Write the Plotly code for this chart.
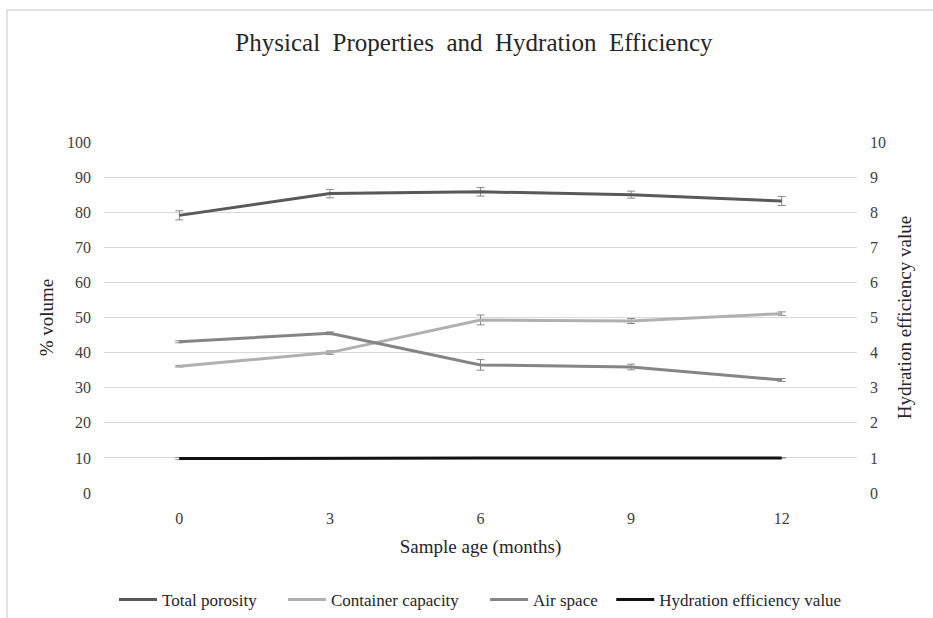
import plotly.graph_objects as go

ages = ["0", "3", "6", "9", "12"]
total_porosity = [79.1, 85.3, 85.8, 85.0, 83.2]
total_porosity_err = [1.3, 1.2, 1.2, 1.0, 1.3]
container_capacity = [36.1, 40.0, 49.3, 49.0, 51.1]
container_capacity_err = [0.2, 0.5, 1.4, 0.7, 0.5]
air_space = [43.1, 45.5, 36.5, 35.9, 32.2]
air_space_err = [0.3, 0.4, 1.5, 0.8, 0.4]
hydration = [0.98, 1.0, 1.0, 1.0, 1.0]
hydration_err = [0.03, 0, 0, 0, 0]
series_names = ["Total porosity", "Container capacity", "Air space",
                "Hydration efficiency value"]
y_ticks = [0, 10, 20, 30, 40, 50, 60, 70, 80, 90, 100]
y2_ticks = [0, 1, 2, 3, 4, 5, 6, 7, 8, 9, 10]

FONT = "Liberation Serif"
ERR = "#8a8a8a"
NB = "\u00a0"
legend_pad = [5, 5, 2, 0]

fig = go.Figure()

def add(i, y, err, color, axis="y"):
    fig.add_trace(go.Scatter(
        x=ages, y=y, name=series_names[i] + NB * legend_pad[i],
        mode="lines", yaxis=axis,
        line=dict(color=color, width=3),
        error_y=dict(type="data", array=err, visible=True, color=ERR,
                     thickness=1, width=4),
    ))

add(0, total_porosity, total_porosity_err, "#595959")
add(1, container_capacity, container_capacity_err, "#b0b0b0")
add(2, air_space, air_space_err, "#858585")
add(3, hydration, hydration_err, "#111111", "y2")

fig.update_layout(
    width=933, height=618,
    margin=dict(l=104, r=76, t=142, b=125, autoexpand=False),
    paper_bgcolor="white", plot_bgcolor="white",
    font=dict(family=FONT, size=16, color="#404040"),
    title=dict(text="Physical  Properties  and  Hydration  Efficiency",
               x=0.508, xanchor="center", y=0.932, yanchor="middle",
               font=dict(family=FONT, size=25, color="#262626")),
    xaxis=dict(type="category", range=[-0.5, 4.5], showgrid=False,
               showline=False, zeroline=False, ticks="",
               ticklabelstandoff=14,
               tickfont=dict(family=FONT, size=16, color="#404040"),
               title=dict(text="Sample age (months)", standoff=13,
                          font=dict(family=FONT, size=19, color="#262626"))),
    yaxis=dict(range=[0, 100], tickvals=y_ticks, showgrid=True,
               gridcolor="#d9d9d9", gridwidth=1, zeroline=False,
               showline=False, ticks="", ticklabelstandoff=12,
               tickfont=dict(family=FONT, size=16, color="#404040"),
               title=dict(text="% volume", standoff=8,
                          font=dict(family=FONT, size=19, color="#262626"))),
    yaxis2=dict(range=[0, 10], tickvals=y2_ticks, overlaying="y",
                side="right", showgrid=False, zeroline=False,
                showline=False, ticks="", ticklabelstandoff=12,
                tickfont=dict(family=FONT, size=16, color="#404040"),
                title=dict(text="Hydration efficiency value", standoff=12,
                           font=dict(family=FONT, size=19, color="#262626"))),
    legend=dict(orientation="h", x=0.5, xanchor="center", y=-0.305,
                yanchor="middle", font=dict(family=FONT, size=17, color="#262626"),
                itemwidth=38, tracegroupgap=0),
    showlegend=True,
)

fig.add_shape(type="rect", xref="paper", yref="paper",
              x0=(7 - 104) / 753, x1=(945 - 104) / 753,
              y0=(493 - 630) / 351, y1=(493 - 10) / 351,
              line=dict(color="#d9d9d9", width=1.5), layer="below")

fig.write_html("out.html", config={"displayModeBar": False},
               post_script="document.body.style.margin='0';document.body.style.padding='0';")
